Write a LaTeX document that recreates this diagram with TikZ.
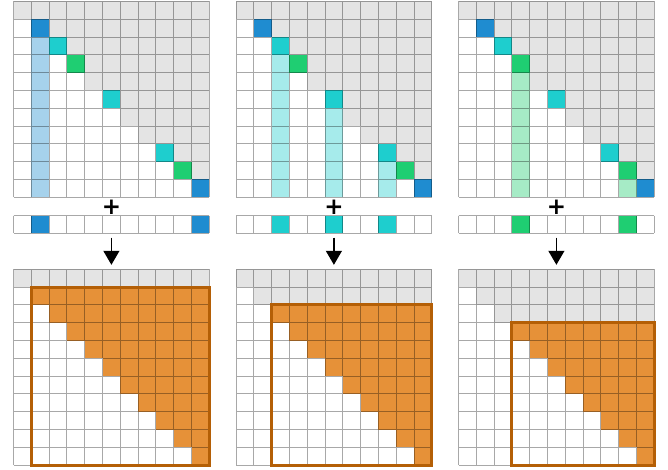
\documentclass[tikz,border=0pt]{standalone}
\usepackage{fontspec}
\setmainfont{DejaVu Sans}
\usetikzlibrary{arrows.meta}
\definecolor{cgray}{HTML}{E4E4E4}
\definecolor{cblue}{HTML}{1F8CD0}
\definecolor{lblue}{HTML}{A6D2EC}
\definecolor{ccyan}{HTML}{1ECECE}
\definecolor{lcyan}{HTML}{A6EBEB}
\definecolor{cgreen}{HTML}{1FCE72}
\definecolor{lgreen}{HTML}{A6EBC6}
\definecolor{corange}{HTML}{E69138}
\definecolor{cborder}{HTML}{B45F06}
\newcommand{\mycell}[5]{\fill[#5] ({#1+#4*17.8},{#2+#3*17.8}) rectangle ++(17.8,17.8);}
\newcommand{\mygrid}[4]{%
  \draw[gl] \foreach \r in {0,...,#3}{({#1},{#2+\r*17.8}) -- ++({#4*17.8},0)}
            \foreach \c in {0,...,#4}{({#1+\c*17.8},{#2}) -- ++(0,{#3*17.8})};}
\begin{document}
\begin{tikzpicture}[x=1pt,y=-1pt,
  gl/.style={draw=black,draw opacity=0.34,line width=1pt},
  obord/.style={draw=cborder,line width=3pt},
  arr/.style={line width=1.3pt,-{Triangle[length=14pt,width=16pt]}},
  plussign/.style={font=\bfseries\fontsize{23}{23}\selectfont,inner sep=0pt}]
\useasboundingbox (0,0) rectangle (668,470);
\foreach \k in {0,1,2}{
  \pgfmathsetmacro\xo{13.5+222.5*\k}
  \pgfmathtruncatemacro\s{\k+1}
  % top grid
  \foreach \i in {0,...,10}{\foreach \j in {\i,...,10}{\mycell{\xo}{1.5}{\i}{\j}{cgray}}}
  \foreach \i/\c in {1/cblue,2/ccyan,3/cgreen,5/ccyan,8/ccyan,9/cgreen,10/cblue}{\mycell{\xo}{1.5}{\i}{\i}{\c}}
  % bottom grid
  \foreach \i in {0,...,10}{\foreach \j in {\i,...,10}{%
    \ifnum\i<\s\relax \mycell{\xo}{269.3}{\i}{\j}{cgray}\else \mycell{\xo}{269.3}{\i}{\j}{corange}\fi}}
  % plus and arrow
  \node[plussign] (plus\k) at ({\xo+97.9},207.5) {+};
  \coordinate (a\k) at ({\xo+97.9},237.5);
  \coordinate (b\k) at ({\xo+97.9},264.8);
  \draw[arr] (a\k) -- (b\k);
}
% panel 1 highlights
\foreach \i in {2,...,10}{\mycell{13.5}{1.5}{\i}{1}{lblue}}
\foreach \j in {1,10}{\mycell{13.5}{215.6}{0}{\j}{cblue}}
% panel 2 highlights
\foreach \i in {3,...,10}{\mycell{236}{1.5}{\i}{2}{lcyan}}
\foreach \i in {6,...,10}{\mycell{236}{1.5}{\i}{5}{lcyan}}
\foreach \i in {9,10}{\mycell{236}{1.5}{\i}{8}{lcyan}}
\foreach \j in {2,5,8}{\mycell{236}{215.6}{0}{\j}{ccyan}}
% panel 3 highlights
\foreach \i in {4,...,10}{\mycell{458.5}{1.5}{\i}{3}{lgreen}}
\mycell{458.5}{1.5}{10}{9}{lgreen}
\foreach \j in {3,9}{\mycell{458.5}{215.6}{0}{\j}{cgreen}}
% grid lines and borders
\foreach \k in {0,1,2}{
  \pgfmathsetmacro\xo{13.5+222.5*\k}
  \pgfmathtruncatemacro\s{\k+1}
  \mygrid{\xo}{1.5}{11}{11}
  \mygrid{\xo}{215.6}{1}{11}
  \mygrid{\xo}{269.3}{11}{11}
  \draw[obord] ({\xo+\s*17.8},{269.3+\s*17.8}) rectangle ({\xo+11*17.8},{269.3+11*17.8});
}
\end{tikzpicture}
\end{document}
